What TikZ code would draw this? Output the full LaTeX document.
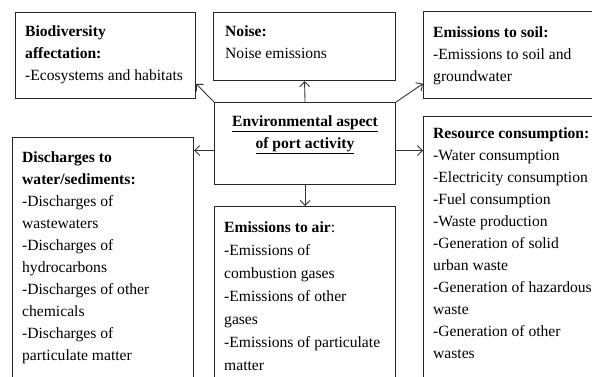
\documentclass[tikz,border=0pt]{standalone}
\usepackage{fontspec}
\setmainfont{Liberation Serif}
\usetikzlibrary{arrows.meta,calc}
\begin{document}
\begin{tikzpicture}[x=1pt,y=-1pt,
 box/.style={draw=black!85,line width=1.1pt,anchor=north west,inner sep=0pt},
 txt/.style={anchor=base west,align=left,inner sep=0pt,font=\fontsize{15.6}{22}\selectfont},
 arr/.style={draw=black!80,line width=0.9pt,-{Straight Barb[length=5pt,width=10pt]}}]
\useasboundingbox (0,0) rectangle (592,376);
\fill[white] (0,0) rectangle (592,376);
\begin{scope}
\clip (0,0) rectangle (592,376);
\node[box,minimum width=180pt,minimum height=86pt] (bio) at (15,12) {};
\node[box,minimum width=182pt,minimum height=68pt] (noise) at (213,12) {};
\node[box,minimum width=180pt,minimum height=87pt] (soil) at (423,11) {};
\node[box,minimum width=181pt,minimum height=82pt] (cen) at (214,102) {};
\node[box,minimum width=181pt,minimum height=190pt] (air) at (214,206) {};
\node[box,minimum width=181pt,minimum height=260pt] (dis) at (12,137) {};
\node[box,minimum width=180pt,minimum height=280pt] (res) at (423,116) {};

% base anchor of a multi-line node = baseline of its last line
\node[txt] (biot) at (25,80) {\textbf{Biodiversity}\\\textbf{affectation:}\\-Ecosystems and habitats};
\node[txt] (noiset) at (225,58) {\textbf{Noise:}\\Noise emissions};
\node[txt] (soilt) at (433,81) {\textbf{Emissions to soil:}\\-Emissions to soil and\\groundwater};
\node[txt,anchor=base,align=center] (cent) at (305,148) {\textbf{\underline{Environmental aspect}}\\\textbf{\underline{of port activity}}};
\node[txt,font=\fontsize{15.6}{23}\selectfont] (airt) at (224,370) {\textbf{Emissions to air}:\\-Emissions of\\combustion gases\\-Emissions of other\\gases\\-Emissions of particulate\\matter};
\node[txt] (dist) at (22,360) {\textbf{Discharges to}\\\textbf{water/sediments:}\\-Discharges of\\wastewaters\\-Discharges of\\hydrocarbons\\-Discharges of other\\chemicals\\-Discharges of\\particulate matter};
\node[txt] (rest) at (433,358) {\textbf{Resource consumption:}\\-Water consumption\\-Electricity consumption\\-Fuel consumption\\-Waste production\\-Generation of solid\\urban waste\\-Generation of hazardous\\waste\\-Generation of other\\wastes};

\coordinate (lw) at ([yshift=-7pt]cen.west);
\coordinate (rw) at ([yshift=-7pt]cen.east);
\draw[arr] (cen.north west) -- ($(bio.east)!0.65!(bio.south east)$);
\draw[arr] (cen.north) -- (noise.south);
\draw[arr] (cen.north east) -- ($(soil.west)!0.65!(soil.south west)$);
\draw[arr] (lw) -- (lw -| dis.east);
\draw[arr] (rw) -- (rw -| res.west);
\draw[arr] (cen.south) -- (air.north);
\end{scope}
\end{tikzpicture}
\end{document}
